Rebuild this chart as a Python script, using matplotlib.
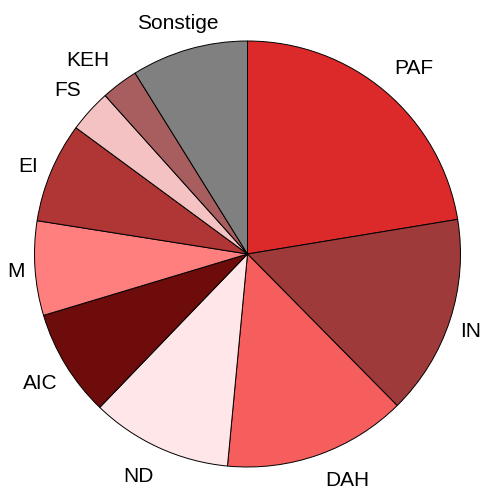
import matplotlib.pyplot as plt

labels = ["PAF", "IN", "DAH", "ND", "AIC", "M", "EI", "FS", "KEH", "Sonstige"]
shares = [22.4, 15.2, 13.9, 10.7, 8.15, 7.15, 7.6, 3.25, 2.8, 8.85]
colors = ["#dc2a2b", "#9e3a3a", "#f65d5d", "#ffe7e9", "#6e0b0b",
          "#ff7f7f", "#b03535", "#f4c2c2", "#a85e5e", "#808080"]
# small pixel nudges so labels sit like in the original
nudge = [(9, 0), (-8, -2), (18, 2), (-8, -2), (0, -3),
         (11, -1), (5, -6), (0, 0), (-14, -1), (-3, -3)]

plt.rcParams['font.family'] = ['Liberation Sans', 'DejaVu Sans']

fig = plt.figure(figsize=(4.91, 4.91), dpi=100)
ax = fig.add_axes([0, 0, 1, 1])

wedges, texts = ax.pie(shares, labels=labels, colors=colors, startangle=90,
                       counterclock=False, center=(247.5, 237), radius=213,
                       labeldistance=1.14, frame=True,
                       wedgeprops=dict(edgecolor='black', linewidth=0.7),
                       textprops=dict(fontsize=15))
for t, (dx, dy) in zip(texts, nudge):
    t.set_horizontalalignment('center')
    x, y = t.get_position()
    t.set_position((x + dx, y + dy))

ax.set_xlim(0, 491)
ax.set_ylim(0, 491)
ax.set_aspect('equal')
ax.axis('off')

fig.savefig("out.png", dpi=100)
